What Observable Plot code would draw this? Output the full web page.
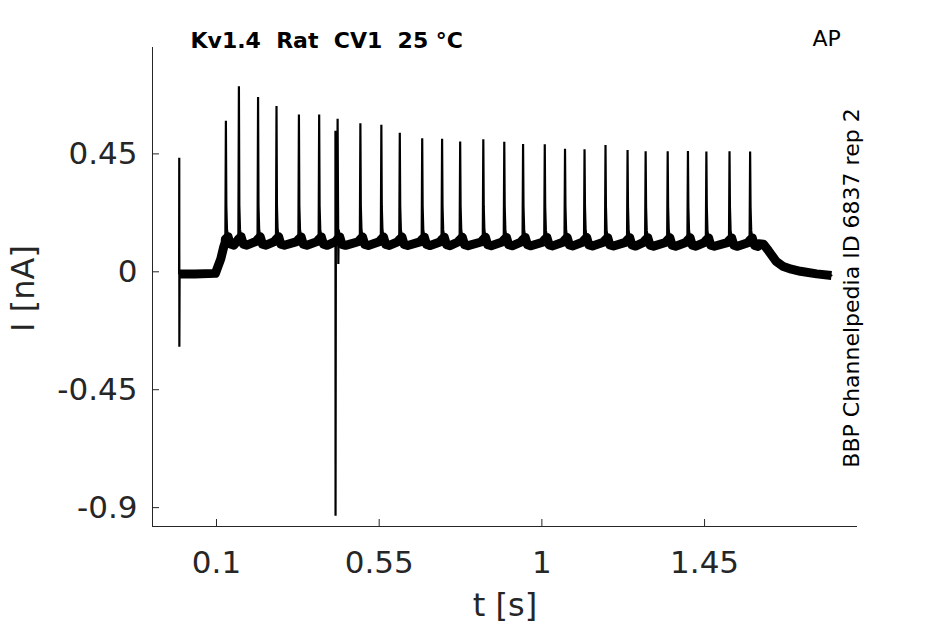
<!DOCTYPE html>
<html><head><meta charset="utf-8">
<script src="https://cdn.jsdelivr.net/npm/d3@7"></script>
<script src="https://cdn.jsdelivr.net/npm/@observablehq/plot@0.6"></script>
<style>body{margin:0;background:#fff}</style>
</head><body><div id="chart"></div>
<script>
// ---- text ----
const titleText = "Kv1.4\u00a0 Rat\u00a0 CV1\u00a0 25 °C";
const protocolText = "AP";
const sourceText = "BBP Channelpedia ID 6837 rep 2";
const xLabel = "t [s]";
const yLabel = "I [nA]";

// ---- axes ----
const xDomain = [-0.077, 1.873];
const yDomain = [-0.972, 0.856];
const xTicks = [0.1, 0.55, 1, 1.45];
const yTicks = [-0.9, -0.45, 0, 0.45];

// ---- spikes (time in s, peak current in nA) ----
const spikeT = [0.126,0.162,0.215,0.266,0.328,0.384,0.435,0.498,0.556,0.607,0.669,0.724,0.774,0.838,0.896,0.948,1.008,1.064,1.118,1.176,1.237,1.287,1.348,1.404,1.455,1.519,1.576];
const spikePeak = [0.576,0.708,0.667,0.633,0.600,0.600,0.584,0.567,0.561,0.531,0.510,0.508,0.497,0.506,0.496,0.488,0.487,0.470,0.468,0.484,0.465,0.460,0.460,0.461,0.459,0.460,0.459];

// spike shape around each peak (offset in s, offset from baseline in nA; null = peak)
const shapeDt = [-0.006, -0.0015, 0, 0.0012, 0.003, 0.006, 0.012, 0.022];
const shapeDi = [0.004, 0.012, null, 0.14, 0.05, 0.022, -0.006, -0.010];

// ---- baseline (holding current) knots ----
const levelT = [-0.002, 0.040, 0.097, 0.112, 0.124, 1.600, 1.613, 1.627, 1.648, 1.668, 1.690, 1.715, 1.760, 1.801];
const levelI = [-0.008, -0.008, -0.006, 0.050, 0.112, 0.107, 0.105, 0.080, 0.040, 0.020, 0.010, 0.002, -0.008, -0.014];

// ---- capacitive artifacts ----
const artifactT = [-0.003, 0.429];
const artifactHi = [0.435, 0.538];
const artifactLo = [-0.286, -0.931];
const notchT = [0.437];
const notchI = [0.03];

// ---- build trace from the values above ----
const level = d3.scaleLinear().domain(levelT).range(levelI).clamp(true);
const pts = [];
levelT.forEach((t, k) => pts.push({t, i: levelI[k], base: true}));
spikeT.forEach((ts, k) => {
  shapeDt.forEach((dt, j) => {
    const t = ts + dt;
    const di = shapeDi[j];
    pts.push({t, i: di === null ? spikePeak[k] : level(t) + di, base: di !== null && di <= 0.03});
  });
});
artifactT.forEach((ta, k) => {
  pts.push({t: ta - 0.0004, i: level(ta), base: false});
  pts.push({t: ta, i: artifactHi[k], base: false});
  pts.push({t: ta + 0.0003, i: artifactLo[k], base: false});
  pts.push({t: ta + 0.0012, i: level(ta), base: false});
});
notchT.forEach((t, k) => pts.push({t, i: notchI[k], base: false}));
pts.sort((a, b) => a.t - b.t);
const basePts = pts.filter(d => d.base);

const chart = Plot.plot({
  width: 945,
  height: 624,
  marginLeft: 152,
  marginRight: 88,
  marginTop: 47,
  marginBottom: 98,
  style: {fontFamily: "DejaVu Sans", color: "#262626", background: "#fff", overflow: "visible"},
  x: {domain: xDomain},
  y: {domain: yDomain},
  marks: [
    Plot.ruleX([xDomain[0]], {stroke: "#262626", strokeWidth: 1}),
    Plot.ruleY([yDomain[0]], {stroke: "#262626", strokeWidth: 1}),
    Plot.axisX({ticks: xTicks, tickSize: -7, tickPadding: 31, tickFormat: d => String(d), fontSize: 31, label: null}),
    Plot.axisY({ticks: yTicks, tickSize: -7, tickPadding: 22, tickFormat: d => String(d), fontSize: 31, label: null}),
    Plot.line(basePts, {x: "t", y: "i", stroke: "#000", strokeWidth: 9, strokeLinejoin: "round", strokeLinecap: "butt"}),
    Plot.line(pts, {x: "t", y: "i", stroke: "#000", strokeWidth: 2.2, strokeLinejoin: "miter"}),
    Plot.text([titleText], {frameAnchor: "top-left", dx: 38, dy: 0, lineAnchor: "bottom", textAnchor: "start", fontSize: 22, fontWeight: "bold", fill: "#000"}),
    Plot.text([protocolText], {frameAnchor: "top-right", dx: -45, dy: -2, lineAnchor: "bottom", textAnchor: "start", fontSize: 22, fill: "#000"}),
    Plot.text([sourceText], {frameAnchor: "right", dx: 1, dy: 1, rotate: -90, lineAnchor: "bottom", textAnchor: "middle", fontSize: 22, fill: "#000"}),
    Plot.text([xLabel], {frameAnchor: "bottom", dy: 89, lineAnchor: "bottom", textAnchor: "middle", fontSize: 32, fill: "#262626"}),
    Plot.text([yLabel], {frameAnchor: "left", dx: -119, dy: 1.5, rotate: -90, lineAnchor: "bottom", textAnchor: "middle", fontSize: 32, fill: "#262626"})
  ]
});
document.getElementById("chart").appendChild(chart);
</script>
</body></html>
